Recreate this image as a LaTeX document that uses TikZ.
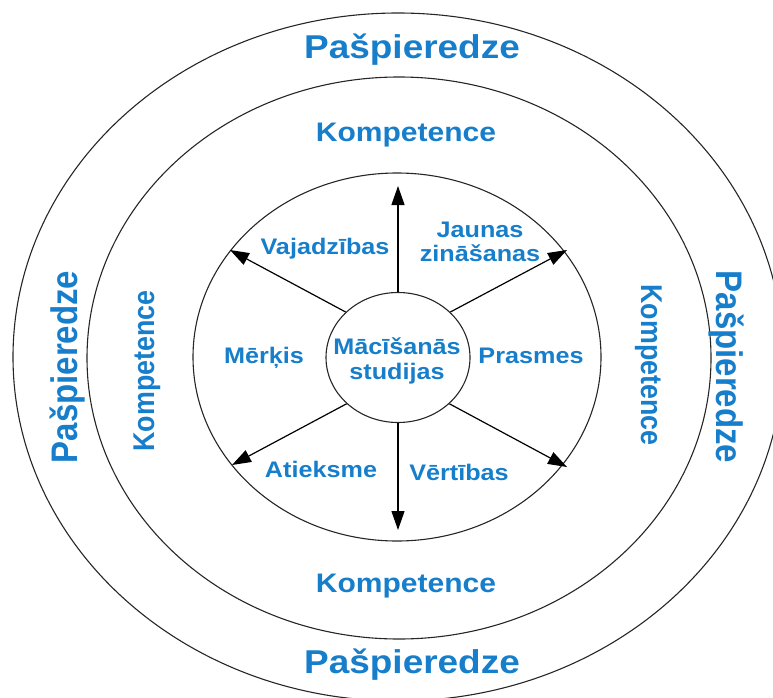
\documentclass[tikz,border=0pt]{standalone}
\usepackage{graphicx}
\usepackage{fontspec}
\setmainfont{Liberation Sans}
\usetikzlibrary{shapes.geometric,arrows.meta}
\definecolor{lblue}{RGB}{22,126,202}
\newcommand\hstr[1]{\scalebox{1.12}[1]{#1}}
\newcommand\vstr[1]{\scalebox{1}[1.12]{#1}}
\begin{document}
\begin{tikzpicture}[x=1pt,y=-1pt,
  ring/.style={ellipse, draw=black!85, line width=1.1pt, inner sep=0pt},
  big/.style={text=lblue, font=\bfseries\fontsize{33}{38}\selectfont},
  mid/.style={text=lblue, font=\bfseries\fontsize{26.8}{30}\selectfont},
  lbl/.style={text=lblue, font=\bfseries\fontsize{22.5}{24.5}\selectfont, align=center},
  arr/.style={-{Triangle[length=19pt,width=13pt]}, line width=1.2pt}]
\useasboundingbox (0,0) rectangle (773,698);
\clip (0,0) rectangle (773,698);
% rings
\node[ring, minimum width=770pt, minimum height=688pt] (outer) at (398,357) {};
\node[ring, minimum width=624pt, minimum height=562pt] (middle) at (399,358) {};
\node[ring, minimum width=408pt, minimum height=368pt] (inner) at (397,357) {};
\node[ring, minimum width=144pt, minimum height=130pt] (core) at (398,357.5) {};
% outer labels
\node[big, anchor=base] (ptop) at (412,59) {\hstr{Pašpieredze}};
\node[big, anchor=base] (pbot) at (412,673) {\hstr{Pašpieredze}};
\node[big, anchor=base, rotate=90] (pleft) at (77,367) {\vstr{Pašpieredze}};
\node[big, anchor=base, rotate=-90] (pright) at (716,367) {\vstr{Pašpieredze}};
% middle labels
\node[mid, anchor=base] (ktop) at (406,141) {\hstr{Kompetence}};
\node[mid, anchor=base] (kbot) at (406,592) {\hstr{Kompetence}};
\node[mid, anchor=base, rotate=90] (kleft) at (154,371) {\vstr{Kompetence}};
\node[mid, anchor=base, rotate=-90] (kright) at (641,365) {\vstr{Kompetence}};
% inner labels
\node[lbl] (coretxt) at (397,361) {\hstr{Mācīšanās}\\\hstr{studijas}};
\node[lbl, anchor=base] (vaj) at (325,254) {\hstr{Vajadzības}};
\node[lbl] (jaun) at (480,242) {\hstr{Jaunas}\\\hstr{zināšanas}};
\node[lbl, anchor=base] (merk) at (264,363) {\hstr{Mērķis}};
\node[lbl, anchor=base] (prasm) at (531,363) {\hstr{Prasmes}};
\node[lbl, anchor=base] (atiek) at (321,477) {\hstr{Atieksme}};
\node[lbl, anchor=base] (vert) at (459,480) {\hstr{Vērtības}};
% arrow ends
\coordinate (tU) at (398,186);
\coordinate (tD) at (398,530);
\coordinate (tUL) at (230,250);
\coordinate (tUR) at (567,250);
\coordinate (tLL) at (232,465);
\coordinate (tLR) at (567,467);
\draw[arr] (core.90) -- (tU);
\draw[arr] (core.270) -- (tD);
\draw[arr] (core.139) -- (tUL);
\draw[arr] (core.41) -- (tUR);
\draw[arr] (core.222) -- (tLL);
\draw[arr] (core.318) -- (tLR);
\end{tikzpicture}
\end{document}
